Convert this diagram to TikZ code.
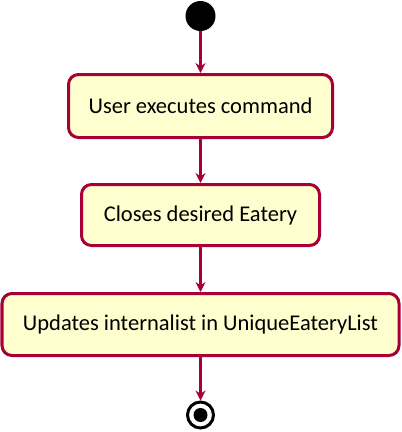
\documentclass[tikz,border=0pt]{standalone}
\usepackage{fontspec}
\setmainfont{Carlito}
\usetikzlibrary{arrows.meta}
\definecolor{umlred}{HTML}{A80036}
\definecolor{umlfill}{HTML}{FEFECE}
\tikzset{
    actbox/.style={draw=umlred, fill=umlfill, line width=3pt, rounded corners=10pt, font=\fontsize{22.5}{27}\selectfont, inner sep=0pt},
    flow/.style={draw=umlred, line width=2.2pt, -{Stealth[length=10pt,width=10pt]}}
}
\begin{document}
\begin{tikzpicture}[x=1pt, y=-1pt]
    \useasboundingbox (0,0) rectangle (402,432);
    % Inicio
    \node[circle, fill=black, minimum size=30pt, inner sep=0pt] (start) at (200.5,16) {};
    % Actividades
    \node[actbox, minimum width=264pt, minimum height=63pt] (user) at (200.5,106) {User executes command};
    \node[actbox, minimum width=238pt, minimum height=61pt] (close) at (200.5,215) {Closes desired Eatery};
    \node[actbox, minimum width=397pt, minimum height=62pt] (update) at (200.5,324.5) {Updates internalist in UniqueEateryList};
    % Fin
    \node[circle, draw=black, line width=3pt, minimum size=26pt, inner sep=0pt] (stop) at (200.5,415) {};
    \fill[black] (stop) circle (7);
    % Flechas
    \draw[flow] (start) -- (user);
    \draw[flow] (user) -- (close);
    \draw[flow] (close) -- (update);
    \draw[flow] (update) -- (stop);
\end{tikzpicture}
\end{document}
